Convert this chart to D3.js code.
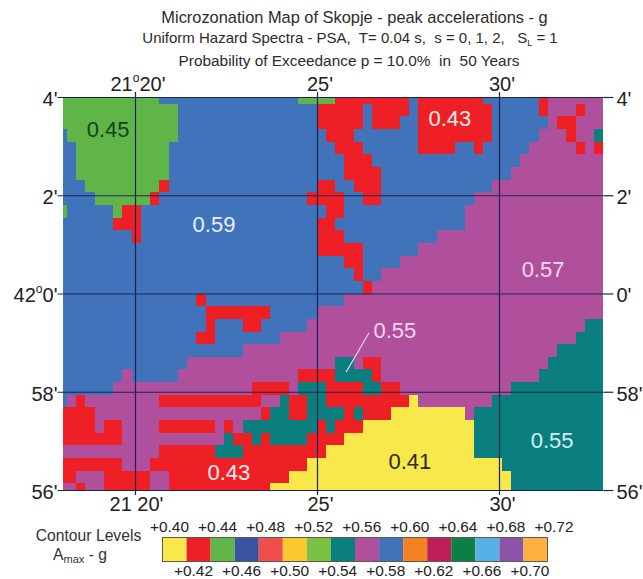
<!DOCTYPE html>
<html>
<head>
<meta charset="utf-8">
<script src="https://cdn.jsdelivr.net/npm/d3@7"></script>
<style>
  html, body { margin: 0; padding: 0; background: #fff; }
  svg { display: block; font-family: "Liberation Sans", Arial, sans-serif; }
  text { white-space: pre; }
</style>
</head>
<body>
<svg id="chart" width="643" height="579"></svg>
<script>
// contour levels of the legend, lowest first
var levels = [0.40, 0.42, 0.44, 0.46, 0.48, 0.50, 0.52, 0.54, 0.56, 0.58, 0.60, 0.62, 0.64, 0.66, 0.68, 0.70]
var levelColors = ["#f9e84c", "#ee2026", "#5fb548", "#3a54a4", "#ef4f4c", "#fbc92f", "#7cc143", "#0b7f80", "#b0509d", "#4073ba", "#f58220", "#bf1e5b", "#0c8044", "#57b1e6", "#8a55a8", "#fbb040"]

// zone letters used in the rows below -> contour level
var zoneLetters = ["Y", "R", "G", "T", "M", "B"]
var zoneLevels = [0.40, 0.42, 0.44, 0.54, 0.56, 0.58]

// one string per map row, north to south: zone letter + last column of that run
var zoneRows = [
  "G10 B25 G29 R37 B38 R45 B51 R52 M58",
  "G12 B27 R32 B33 R37 B38 R46 B51 R52 M55 R56 M58",
  "G12 B27 R32 B33 R36 B38 R46 B52 M53 R55 M58",
  "B0 G12 B28 R31 B38 R46 B51 M54 R55 M57 T58",
  "B1 G11 B29 R32 B38 R42 B44 R45 B50 M55 R56 M57 R58",
  "B1 G11 B30 R33 B49 M58",
  "B1 G11 B30 R34 B48 M58",
  "B2 G10 R11 B27 R29 B31 R34 B46 M58",
  "B3 G9 R10 B26 R30 B32 R34 B44 M58",
  "G0 B5 G6 R8 B28 R30 B43 M58",
  "B5 R8 B27 R29 B43 M58",
  "B7 R8 B27 R30 B40 M58",
  "B27 R32 B38 M58",
  "B30 R32 B36 M58",
  "B31 R32 B34 M58",
  "B32 R33 M58",
  "B14 R15 B30 M58",
  "B15 R22 B27 M58",
  "B15 R16 B19 R21 B26 M56 T58",
  "B14 R16 B23 M55 T58",
  "B19 M53 T58",
  "B13 M29 T31 M32 R34 M52 T58",
  "B6 M7 B12 M25 R29 T33 R34 M51 T58",
  "B5 M20 R24 M25 T28 R32 T34 R36 M48 T58",
  "B0 M1 R2 M10 R21 M23 T24 R26 T28 R37 Y38 M46 T58",
  "R3 M21 R22 T24 R26 T30 R31 T32 R35 Y43 M44 T58",
  "R3 M4 R6 M10 R16 M17 R18 M19 T27 R28 T29 R32 Y44 T58",
  "R6 M17 T18 R20 T21 R22 T26 R30 Y44 T58",
  "M10 R16 T19 R28 Y44 T58",
  "R6 M9 R26 Y47 T58",
  "R1 M4 R9 M11 R24 Y48 T58",
  "M1 R2 M4 R9 M11 R22 Y48 T58"
]

// graticule, minutes of longitude past 21 deg and of latitude past 42 deg
var lonTicks = [20, 25, 30]
var latTicks = [4, 2, 0, -2, -4]
var latLabels = ["4'", "2'", "0'", "58'", "56'"]

var zoneText = ["0.45", "0.59", "0.43", "0.57", "0.55", "0.41", "0.55", "0.43"]
var zoneTextLon = [19.26, 22.17, 28.65, 31.21, 27.14, 27.55, 31.46, 22.58]
var zoneTextLat = [3.33, 1.41, 3.57, 0.48, -0.76, -3.41, -3.00, -3.65]
var zoneTextColor = ["#14431a", "#e8f0fa", "#fdeeee", "#f3d8ee", "#f3d8ee", "#2c2a10", "#d5f1f1", "#fdeeee"]

var topLevels = [0.40, 0.44, 0.48, 0.52, 0.56, 0.60, 0.64, 0.68, 0.72]
var bottomLevels = [0.42, 0.46, 0.50, 0.54, 0.58, 0.62, 0.66, 0.70]

var svg = d3.select("#chart")
var map = {left: 62.5, right: 603.4, top: 97, bottom: 490}

var x = d3.scaleLinear().domain([20, 30]).range([135, 499])
var y = d3.scaleLinear().domain([4, -4]).range([map.top, map.bottom])

// cells are a bit off the graticule, edges worked out from the stair steps
var colEdge = d3.scaleLinear().domain([1, 59]).range([x.invert(66.95), x.invert(603.45)])
var rowEdge = d3.scaleLinear().domain([1, 31]).range([y.invert(103.8), y.invert(483.3)])

var zoneColor = d3.scaleOrdinal().domain(levels).range(levelColors)

function parseRuns(row, i) {
  var first = 0
  return row.split(" ").map(function (run) {
    var last = +run.slice(1)
    var d = {row: i, first: first, last: last, level: zoneLevels[zoneLetters.indexOf(run[0])]}
    first = last + 1
    return d
  })
}
var runs = d3.merge(zoneRows.map(parseRuns))

function cx(c) { return Math.max(map.left, Math.min(map.right, x(colEdge(c)))) }
function cy(r) { return Math.max(map.top, Math.min(map.bottom, y(rowEdge(r)))) }

svg.append("g").attr("shape-rendering", "crispEdges")
  .selectAll("rect").data(runs).enter().append("rect")
  .attr("x", function (d) { return cx(d.first) })
  .attr("y", function (d) { return d.row == 0 ? map.top : cy(d.row) })
  .attr("width", function (d) { return cx(d.last + 1) - cx(d.first) })
  .attr("height", function (d) { return (d.row == 31 ? map.bottom : cy(d.row + 1)) - (d.row == 0 ? map.top : cy(d.row)) })
  .attr("fill", function (d) { return zoneColor(d.level) })

// zone value labels and the leader of the middle one
svg.append("line")
  .attr("x1", x(26.43)).attr("y1", y(-0.80)).attr("x2", x(25.80)).attr("y2", y(-1.60))
  .attr("stroke", "#f0d8ee").attr("stroke-width", 1.1)

svg.selectAll(".zone").data(zoneText).enter().append("text")
  .attr("class", "zone")
  .attr("x", function (d, i) { return x(zoneTextLon[i]) })
  .attr("y", function (d, i) { return y(zoneTextLat[i]) })
  .attr("text-anchor", "middle").attr("dominant-baseline", "central")
  .attr("font-size", 22).attr("fill", function (d, i) { return zoneTextColor[i] })
  .text(function (d) { return d })

// axes, long inner ticks make the graticule
function styleAxis(g) {
  g.select(".domain").attr("stroke", "none")
  g.selectAll("line").attr("stroke", "#1c2450").attr("stroke-width", 1.2)
  g.selectAll("text").attr("font-size", 20).attr("fill", "#222")
}
var gridH = map.bottom - map.top, gridW = map.right - map.left

svg.append("g").attr("transform", "translate(0," + map.bottom + ")")
  .call(d3.axisBottom(x).tickValues(lonTicks).tickSize(5).tickPadding(2)
    .tickFormat(function (d) { return d == 20 ? "21 20'" : d + "'" }))
  .call(styleAxis)
  .call(function (g) {
    g.selectAll(".tick line").attr("y1", -gridH)
    g.selectAll(".tick text").attr("dx", function (d) { return d == 20 ? 1 : 3 })
  })

svg.append("g").attr("transform", "translate(0," + map.top + ")")
  .call(d3.axisTop(x).tickValues(lonTicks).tickSize(5).tickPadding(1)
    .tickFormat(function (d) { return d == 20 ? "" : d + "'" }))
  .call(styleAxis)
  .call(function (g) {
    g.selectAll(".tick text").attr("dx", 2.5)
    var t = g.selectAll(".tick text").filter(function (d) { return d == 20 })
    t.append("tspan").text("21")
    t.append("tspan").attr("font-size", 12).attr("dy", -9).text("o")
    t.append("tspan").attr("dy", 9).text("20'")
  })

svg.append("g").attr("transform", "translate(" + map.left + ",0)")
  .call(d3.axisLeft(y).tickValues(latTicks).tickSize(5).tickPadding(0)
    .tickFormat(function (d) { return d == 0 ? "" : latLabels[latTicks.indexOf(d)] }))
  .call(styleAxis)
  .call(function (g) {
    g.selectAll(".tick line").attr("x1", gridW)
    g.selectAll(".tick text").attr("y", 2)
    var t = g.selectAll(".tick text").filter(function (d) { return d == 0 })
    t.append("tspan").text("42")
    t.append("tspan").attr("font-size", 12).attr("dy", -9).text("o")
    t.append("tspan").attr("dy", 9).text("0'")
  })

svg.append("g").attr("transform", "translate(" + map.right + ",0)")
  .call(d3.axisRight(y).tickValues(latTicks).tickSize(10).tickPadding(3)
    .tickFormat(function (d, i) { return latLabels[i] }))
  .call(styleAxis)
  .call(function (g) { g.selectAll(".tick text").attr("y", 2) })

// title block
var titles = ["Microzonation Map of Skopje - peak accelerations - g",
  "Uniform Hazard Spectra - PSA,  T= 0.04 s,  s = 0, 1, 2,   S",
  "Probability of Exceedance p = 10.0%  in  50 Years"]
var titleY = [23, 43, 66], titleX = [354.5, 350, 349], titleSize = [16.4, 15, 15.4]
svg.selectAll(".title").data(titles).enter().append("text")
  .attr("class", "title")
  .attr("x", function (d, i) { return titleX[i] }).attr("y", function (d, i) { return titleY[i] })
  .attr("text-anchor", "middle").attr("fill", "#2b2b2b")
  .attr("font-size", function (d, i) { return titleSize[i] })
  .each(function (d, i) {
    d3.select(this).append("tspan").text(d)
    if (i == 1) {
      d3.select(this).append("tspan").attr("font-size", 9).attr("dy", 3).text("L")
      d3.select(this).append("tspan").attr("dy", -3).text(" = 1")
    }
  })

// legend
var legendX = d3.scaleBand().domain(levels).range([162.5, 547.5])
var legend = svg.append("g")
legend.selectAll("rect").data(levels).enter().append("rect")
  .attr("x", function (d) { return legendX(d) }).attr("y", 537.5)
  .attr("width", legendX.bandwidth()).attr("height", 24)
  .attr("fill", function (d) { return zoneColor(d) })
legend.append("rect").attr("x", 162.5).attr("y", 537.5).attr("width", 385).attr("height", 24)
  .attr("fill", "none").attr("stroke", "#5c5a48").attr("stroke-width", 1)

var legendLabelX = d3.scaleLinear().domain([0.40, 0.72]).range([169.5, 554])

legend.selectAll(".top").data(topLevels).enter().append("text")
  .attr("class", "top").attr("x", legendLabelX).attr("y", 532)
  .attr("text-anchor", "middle").attr("font-size", 15.4).attr("fill", "#222")
  .text(function (d) { return "+" + d.toFixed(2) })
legend.selectAll(".bot").data(bottomLevels).enter().append("text")
  .attr("class", "bot").attr("x", legendLabelX).attr("y", 576)
  .attr("text-anchor", "middle").attr("font-size", 15.4).attr("fill", "#222")
  .text(function (d) { return "+" + d.toFixed(2) })

legend.append("text").attr("x", 88.5).attr("y", 541).attr("text-anchor", "middle")
  .attr("font-size", 15.7).attr("fill", "#333").text("Contour Levels")
var amax = legend.append("text").attr("x", 80).attr("y", 560).attr("text-anchor", "middle")
  .attr("font-size", 15.7).attr("fill", "#333")
amax.append("tspan").text("A")
amax.append("tspan").attr("font-size", 11).attr("dy", 3).text("max")
amax.append("tspan").attr("dy", -3).text(" - g")
</script>
</body>
</html>
